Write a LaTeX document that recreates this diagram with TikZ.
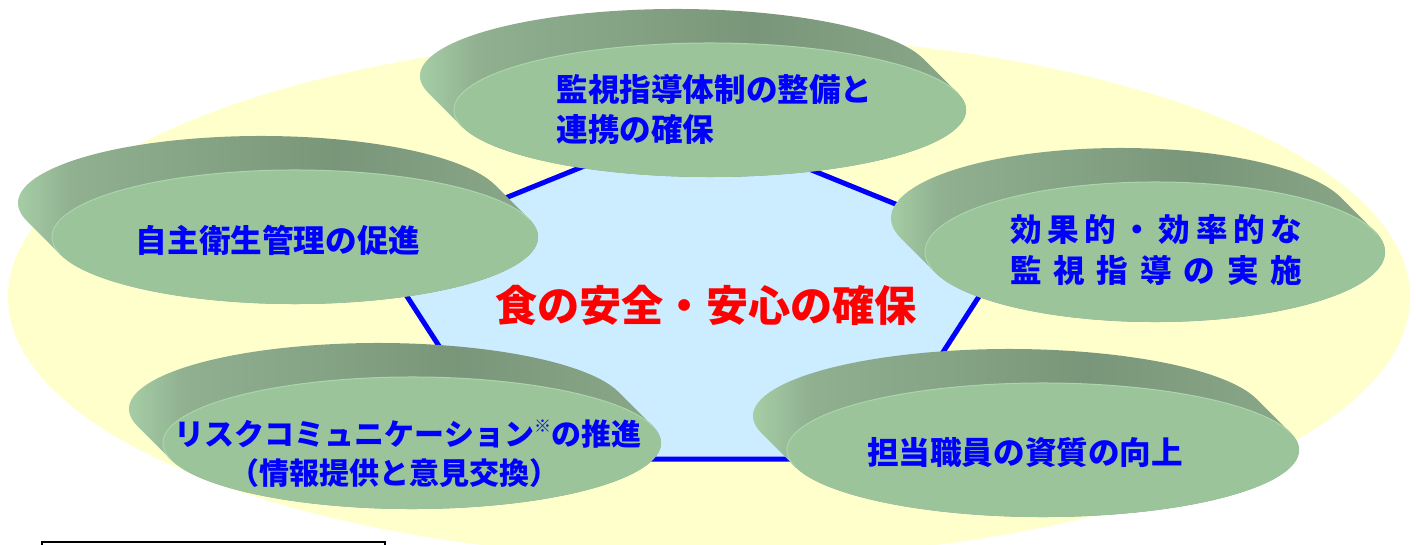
\documentclass[tikz,border=0pt]{standalone}
\usepackage{fontspec}
\newfontfamily\jp{Noto Sans CJK JP}
\usetikzlibrary{calc}
\definecolor{ylw}{HTML}{FFFFCC}
\definecolor{pentfill}{HTML}{CCECFF}
\definecolor{pentline}{HTML}{0000FF}
\definecolor{discface}{HTML}{9BC49B}
\definecolor{sidelight}{HTML}{B0DCB0}
\definecolor{sidemid}{HTML}{90B090}
\definecolor{sidedark}{HTML}{7A967A}
\definecolor{sideright}{HTML}{8CAA8C}
\definecolor{rimlight}{HTML}{ABD5AB}
\definecolor{txtblue}{HTML}{0000FF}
\definecolor{txtred}{HTML}{FF0000}
\pgfdeclarehorizontalshading{discside}{100bp}{%
  color(0bp)=(sidelight); color(25bp)=(sidelight); color(32bp)=(sidemid);
  color(55bp)=(sidedark); color(75bp)=(sideright); color(100bp)=(sideright)}
\newcommand\mydisc[4]{%
  \pgfmathsetmacro\dta{atan(#4/#3)}%
  \pgfmathsetmacro\dsa{180-\dta}%
  \pgfmathsetmacro\dea{360-\dta}%
  \pgfmathsetmacro\dfa{540-\dta}%
  \shade[shading=discside]
    ($(#1-34,#2-34)+(\dsa:#3 and #4)$)
      arc[start angle=\dsa, end angle=\dea, x radius=#3, y radius=#4]
    -- ($(#1,#2)+(\dea:#3 and #4)$)
      arc[start angle=\dea, end angle=\dfa, x radius=#3, y radius=#4]
    -- cycle;
  \fill[discface] (#1,#2) ellipse[x radius=#3, y radius=#4];
  \draw[rimlight, line width=0.5pt] ($(#1,#2)+(165:#3 and #4)$)
      arc[start angle=165, end angle=345, x radius=#3, y radius=#4];
}
\tikzset{
  lbl/.style={inner sep=0pt, text=txtblue, font=\jp\bfseries\fontsize{15.8}{20}\selectfont},
  lblsmall/.style={inner sep=0pt, text=txtblue, font=\jp\bfseries\fontsize{15}{20}\selectfont},
  ctrlbl/.style={inner sep=0pt, text=txtred, font=\jp\bfseries\fontsize{21.1}{26}\selectfont},
}
\begin{document}
\begin{tikzpicture}[x=0.5pt, y=-0.5pt]
  \useasboundingbox (0,0) rectangle (1416,545);
  \clip (0,0) rectangle (1416,545);
  % background ellipse
  \fill[ylw] (709,297) ellipse[x radius=701, y radius=262];
  % pentagon
  \filldraw[fill=pentfill, draw=pentline, line width=2.5pt]
    (693,122) -- (1009,250) -- (874,459) -- (512,459) -- (377,250) -- cycle;
  % discs
  \mydisc{710}{110}{256}{67}
  \mydisc{295}{237}{243}{67}
  \mydisc{1155}{252}{230}{70}
  \mydisc{412}{443}{249}{66}
  \mydisc{1043}{450}{256}{67}
  % texts
  \node[lbl, anchor=west] (t1a) at (556,90) {監視指導体制の整備と};
  \node[lbl, anchor=west] (t1b) at (556,130) {連携の確保};
  \node[lbl] (t2) at (278,240) {自主衛生管理の促進};
  \node[lbl] (t3a) at (1156,230) {\hbox to 146pt{効\hfill 果\hfill 的\hfill ・\hfill 効\hfill 率\hfill 的\hfill な}};
  \node[lbl] (t3b) at (1156,270) {\hbox to 146pt{監\hfill 視\hfill 指\hfill 導\hfill の\hfill 実\hfill 施}};
  \node[lblsmall] (t4a) at (408,434) {リスクコミュニケーション\raisebox{0.45em}{\fontsize{8.5}{9}\selectfont ※}の推進};
  \node[lblsmall] (t4b) at (394,473) {（情報提供と意見交換）};
  \node[lbl] (t5) at (1025,453) {担当職員の資質の向上};
  \node[ctrlbl] (ctr) at (706,305) {食の安全・安心の確保};
  % cut-off note box
  \draw[black, line width=1pt] (42,542) rectangle (385,600);
\end{tikzpicture}
\end{document}
